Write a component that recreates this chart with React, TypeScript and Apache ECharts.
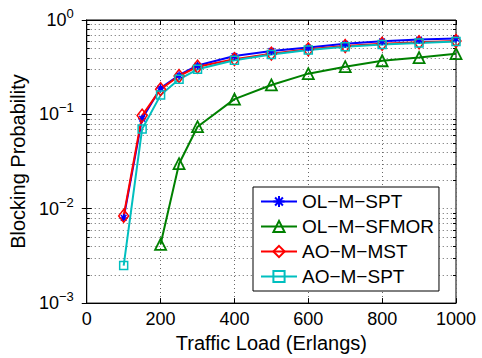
import React, { useEffect, useRef } from "react";
import * as echarts from "echarts";

const loads = [100, 150, 200, 250, 300, 400, 500, 600, 700, 800, 900, 1000];
const olMSpt = [0.008, 0.09, 0.19, 0.26, 0.33, 0.415, 0.47, 0.51, 0.56, 0.595, 0.62, 0.635];
const sfmorLoads = [200, 250, 300, 400, 500, 600, 700, 800, 900, 1000];
const olMSfmor = [0.0042, 0.03, 0.074, 0.145, 0.205, 0.27, 0.32, 0.37, 0.4, 0.44];
const aoMMst = [0.0084, 0.097, 0.185, 0.255, 0.32, 0.385, 0.44, 0.49, 0.53, 0.56, 0.58, 0.6];
const aoMSpt = [0.0025, 0.07, 0.16, 0.235, 0.3, 0.375, 0.43, 0.48, 0.52, 0.55, 0.57, 0.59];
const minorTicks = [
  0.002, 0.003, 0.004, 0.005, 0.006, 0.007, 0.008, 0.009,
  0.02, 0.03, 0.04, 0.05, 0.06, 0.07, 0.08, 0.09,
  0.2, 0.3, 0.4, 0.5, 0.6, 0.7, 0.8, 0.9,
];
const seriesNames = ["OL\u2212M\u2212SPT", "OL\u2212M\u2212SFMOR", "AO\u2212M\u2212MST", "AO\u2212M\u2212SPT"];

const FONT = "'Liberation Sans', Arial, Helvetica, sans-serif";
const BLUE = "#0000ff";
const GREEN = "#008000";
const RED = "#ff0000";
const CYAN = "#00bfbf";
const ASTERISK = "path://M5,0L5,10M0,5L10,5M1.5,1.5L8.5,8.5M1.5,8.5L8.5,1.5";

const zip = (xs: number[], ys: number[]) => xs.map((x, i) => [x, ys[i]]);

export default function App() {
  const ref = useRef<HTMLDivElement>(null);
  useEffect(() => {
    if (!ref.current) return;
    const chart = echarts.init(ref.current, null, { renderer: "svg" });
    const yFmt = (v: number) => {
      const e = Math.round(Math.log10(v));
      return `{b|10}{s|${e < 0 ? "\u2212" + -e : e}}`;
    };
    const gridDash = { type: [1, 3] as any, color: "#666", width: 1 };
    chart.setOption({
      animation: false,
      backgroundColor: "#fff",
      textStyle: { fontFamily: FONT },
      grid: { left: 82, right: 26, top: 20, bottom: 50, show: true, borderColor: "#000", borderWidth: 1, backgroundColor: "transparent" },
      legend: {
        data: seriesNames,
        orient: "vertical",
        left: 253,
        top: 187,
        padding: [5, 5, 5, 7],
        itemGap: 6,
        itemWidth: 36,
        itemHeight: 14,
        borderColor: "#000",
        borderWidth: 1,
        backgroundColor: "#fff",
        textStyle: { fontSize: 19, fontFamily: FONT, color: "#000", lineHeight: 19 },
      },
      xAxis: [
        {
          type: "value",
          min: 0,
          max: 1000,
          interval: 200,
          name: "Traffic Load (Erlangs)",
          nameLocation: "middle",
          nameGap: 25,
          nameTextStyle: { fontSize: 20, color: "#000", fontFamily: FONT },
          axisLine: { lineStyle: { color: "#000" } },
          axisTick: { inside: true, length: 5, lineStyle: { color: "#000" } },
          axisLabel: { fontSize: 18, color: "#000", margin: 7, fontFamily: FONT, formatter: (v: number) => String(v) },
          splitLine: { show: true, lineStyle: gridDash },
        },
        {
          type: "value",
          position: "top",
          min: 0,
          max: 1000,
          interval: 200,
          axisLine: { lineStyle: { color: "#000" } },
          axisTick: { inside: true, length: 5, lineStyle: { color: "#000" } },
          axisLabel: { show: false },
          splitLine: { show: false },
        },
      ],
      yAxis: [
        {
          type: "log",
          logBase: 10,
          min: 0.001,
          max: 1,
          splitNumber: 3,
          name: "Blocking Probability",
          nameLocation: "middle",
          nameGap: 42,
          nameTextStyle: { fontSize: 20, color: "#000", fontFamily: FONT },
          axisLine: { lineStyle: { color: "#000" } },
          axisTick: { inside: true, length: 5, lineStyle: { color: "#000" } },
          axisLabel: {
            formatter: yFmt,
            margin: 13,
            rich: {
              b: { fontSize: 18, color: "#000", lineHeight: 26, fontFamily: FONT },
              s: { fontSize: 13, color: "#000", lineHeight: 12, verticalAlign: "top", fontFamily: FONT },
            },
          },
          splitLine: { show: true, lineStyle: gridDash },
        },
        {
          type: "log",
          logBase: 10,
          min: 0.001,
          max: 1,
          splitNumber: 3,
          position: "right",
          axisLine: { lineStyle: { color: "#000" } },
          axisTick: { inside: true, length: 5, lineStyle: { color: "#000" } },
          axisLabel: { show: false },
          splitLine: { show: false },
        },
      ],
      series: [
        {
          type: "custom",
          name: "minor",
          silent: true,
          z: 1,
          data: minorTicks.map((v) => [0, v]),
          encode: { x: 0, y: 1 },
          renderItem: (params: any, api: any) => {
            const pt = api.coord([0, api.value(1)]);
            const cs = params.coordSys;
            const y = Math.round(pt[1]) + 0.5;
            return {
              type: "group",
              children: [
                { type: "line", shape: { x1: cs.x, y1: y, x2: cs.x + cs.width, y2: y }, style: { stroke: "#666", lineWidth: 1, lineDash: [1, 3] } },
                { type: "line", shape: { x1: cs.x, y1: y, x2: cs.x + 3, y2: y }, style: { stroke: "#000", lineWidth: 1 } },
                { type: "line", shape: { x1: cs.x + cs.width - 3, y1: y, x2: cs.x + cs.width, y2: y }, style: { stroke: "#000", lineWidth: 1 } },
              ],
            };
          },
        },
        {
          type: "line",
          name: seriesNames[0],
          color: BLUE,
          z: 3,
          data: zip(loads, olMSpt),
          symbol: ASTERISK,
          symbolSize: 8,
          lineStyle: { color: BLUE, width: 2 },
          itemStyle: { color: "rgba(0,0,0,0)", borderColor: BLUE, borderWidth: 1.5 },
        },
        {
          type: "line",
          name: seriesNames[1],
          color: GREEN,
          z: 3,
          data: zip(sfmorLoads, olMSfmor),
          symbol: "triangle",
          symbolSize: 11,
          lineStyle: { color: GREEN, width: 2 },
          itemStyle: { color: "rgba(0,0,0,0)", borderColor: GREEN, borderWidth: 1.8 },
        },
        {
          type: "line",
          name: seriesNames[2],
          color: RED,
          z: 3,
          data: zip(loads, aoMMst),
          symbol: "diamond",
          symbolSize: [10, 13],
          lineStyle: { color: RED, width: 2 },
          itemStyle: { color: "rgba(0,0,0,0)", borderColor: RED, borderWidth: 1.5 },
        },
        {
          type: "line",
          name: seriesNames[3],
          color: CYAN,
          z: 3,
          data: zip(loads, aoMSpt),
          symbol: "rect",
          symbolSize: 8,
          lineStyle: { color: CYAN, width: 2 },
          itemStyle: { color: "rgba(0,0,0,0)", borderColor: CYAN, borderWidth: 1.5 },
        },
      ],
    });
    return () => chart.dispose();
  }, []);
  return <div ref={ref} style={{ position: "absolute", left: 0, top: 0, width: 482, height: 358 }} />;
}
